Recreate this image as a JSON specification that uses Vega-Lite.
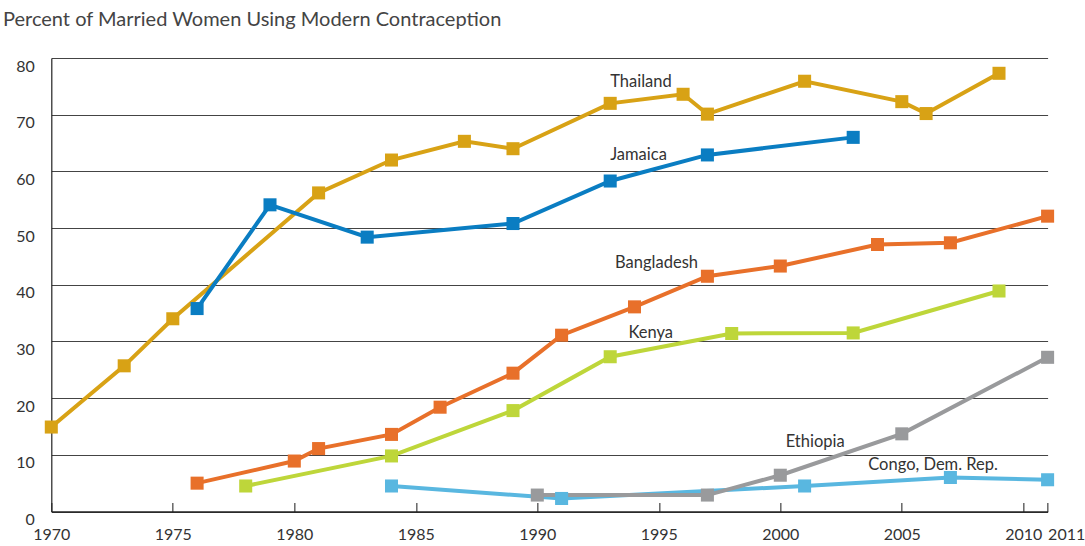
{
  "$schema": "https://vega.github.io/schema/vega-lite/v6.json",
  "width": 996.3,
  "height": 453.5,
  "autosize": {"type": "none"},
  "padding": {"left": 51.3, "top": 58, "right": 37.4, "bottom": 34.5},
  "background": "white",
  "title": {
    "text": "Percent of Married Women Using Modern Contraception",
    "anchor": "start",
    "frame": "group",
    "font": "Lato",
    "fontSize": 20,
    "fontWeight": "normal",
    "color": "#444444",
    "baseline": "alphabetic",
    "offset": 12,
    "dx": -48.3
  },
  "config": {"view": {"stroke": null}},
  "datasets": {
    "series": [
      {"country": "Thailand", "year": 1970, "value": 14.9},
      {"country": "Thailand", "year": 1973, "value": 25.7},
      {"country": "Thailand", "year": 1975, "value": 34.0},
      {"country": "Thailand", "year": 1981, "value": 56.2},
      {"country": "Thailand", "year": 1984, "value": 62.0},
      {"country": "Thailand", "year": 1987, "value": 65.3},
      {"country": "Thailand", "year": 1989, "value": 64.0},
      {"country": "Thailand", "year": 1993, "value": 72.0},
      {"country": "Thailand", "year": 1996, "value": 73.6},
      {"country": "Thailand", "year": 1997, "value": 70.1},
      {"country": "Thailand", "year": 2001, "value": 75.9},
      {"country": "Thailand", "year": 2005, "value": 72.3},
      {"country": "Thailand", "year": 2006, "value": 70.2},
      {"country": "Thailand", "year": 2009, "value": 77.3},
      {"country": "Jamaica", "year": 1976, "value": 35.8},
      {"country": "Jamaica", "year": 1979, "value": 54.1},
      {"country": "Jamaica", "year": 1983, "value": 48.4},
      {"country": "Jamaica", "year": 1989, "value": 50.8},
      {"country": "Jamaica", "year": 1993, "value": 58.3},
      {"country": "Jamaica", "year": 1997, "value": 62.9},
      {"country": "Jamaica", "year": 2003, "value": 66.0},
      {"country": "Bangladesh", "year": 1976, "value": 5.0},
      {"country": "Bangladesh", "year": 1980, "value": 8.9},
      {"country": "Bangladesh", "year": 1981, "value": 11.1},
      {"country": "Bangladesh", "year": 1984, "value": 13.6},
      {"country": "Bangladesh", "year": 1986, "value": 18.4},
      {"country": "Bangladesh", "year": 1989, "value": 24.4},
      {"country": "Bangladesh", "year": 1991, "value": 31.1},
      {"country": "Bangladesh", "year": 1994, "value": 36.1},
      {"country": "Bangladesh", "year": 1997, "value": 41.5},
      {"country": "Bangladesh", "year": 2000, "value": 43.3},
      {"country": "Bangladesh", "year": 2004, "value": 47.1},
      {"country": "Bangladesh", "year": 2007, "value": 47.4},
      {"country": "Bangladesh", "year": 2011, "value": 52.1},
      {"country": "Kenya", "year": 1978, "value": 4.5},
      {"country": "Kenya", "year": 1984, "value": 9.8},
      {"country": "Kenya", "year": 1989, "value": 17.8},
      {"country": "Kenya", "year": 1993, "value": 27.3},
      {"country": "Kenya", "year": 1998, "value": 31.4},
      {"country": "Kenya", "year": 2003, "value": 31.5},
      {"country": "Kenya", "year": 2009, "value": 38.9},
      {"country": "Congo, Dem. Rep.", "year": 1984, "value": 4.5},
      {"country": "Congo, Dem. Rep.", "year": 1991, "value": 2.3},
      {"country": "Congo, Dem. Rep.", "year": 2001, "value": 4.5},
      {"country": "Congo, Dem. Rep.", "year": 2007, "value": 6.0},
      {"country": "Congo, Dem. Rep.", "year": 2011, "value": 5.6},
      {"country": "Ethiopia", "year": 1990, "value": 2.9},
      {"country": "Ethiopia", "year": 1997, "value": 2.9},
      {"country": "Ethiopia", "year": 2000, "value": 6.4},
      {"country": "Ethiopia", "year": 2005, "value": 13.7},
      {"country": "Ethiopia", "year": 2011, "value": 27.2}
    ],
    "labels": [
      {"label": "Thailand", "year": 1993.0, "value": 75.7},
      {"label": "Jamaica", "year": 1993.0, "value": 62.9},
      {"label": "Bangladesh", "year": 1993.2, "value": 43.8},
      {"label": "Kenya", "year": 1993.75, "value": 31.5},
      {"label": "Ethiopia", "year": 2000.22, "value": 12.3},
      {"label": "Congo, Dem. Rep.", "year": 2003.62, "value": 8.2}
    ]
  },
  "layer": [
    {
      "data": {"name": "series"},
      "mark": {
        "type": "line",
        "strokeWidth": 4,
        "point": {"shape": "square", "size": 170, "filled": true, "opacity": 1}
      },
      "encoding": {
        "x": {
          "field": "year",
          "type": "quantitative",
          "scale": {"domain": [1970, 2011], "nice": false, "zero": false},
          "axis": {
            "title": null,
            "values": [1970, 1975, 1980, 1985, 1990, 1995, 2000, 2005, 2010, 2011],
            "format": "d",
            "grid": false,
            "ticks": true,
            "tickSize": -9,
            "tickColor": "#666666",
            "tickWidth": 1.5,
            "domainColor": "#222222",
            "domainWidth": 1.5,
            "labelFont": "Lato",
            "labelFontSize": 16,
            "labelColor": "#333333",
            "labelPadding": 24,
            "labelOverlap": false,
            "labelFlush": false,
            "labelBound": false,
            "labelAlign": {"condition": {"test": "datum.value === 2011", "value": "left"}, "value": "center"}
          }
        },
        "y": {
          "field": "value",
          "type": "quantitative",
          "scale": {"domain": [0, 80], "nice": false},
          "axis": {
            "title": null,
            "values": [0, 10, 20, 30, 40, 50, 60, 70, 80],
            "grid": true,
            "gridColor": "#444444",
            "gridWidth": 1,
            "ticks": false,
            "domainColor": "#222222",
            "domainWidth": 1.2,
            "labelFont": "Lato",
            "labelFontSize": 16,
            "labelColor": "#333333",
            "labelPadding": 17,
            "labelOffset": 8
          }
        },
        "color": {
          "field": "country",
          "type": "nominal",
          "legend": null,
          "scale": {
            "domain": ["Thailand", "Jamaica", "Bangladesh", "Kenya", "Congo, Dem. Rep.", "Ethiopia"],
            "range": ["#D8A215", "#0A7DC2", "#E8702A", "#BED63A", "#59B7E0", "#999A9C"]
          }
        }
      }
    },
    {
      "data": {"name": "labels"},
      "mark": {"type": "text", "align": "left", "baseline": "middle", "font": "Lato", "fontSize": 16.5, "color": "#333333"},
      "encoding": {
        "x": {"field": "year", "type": "quantitative"},
        "y": {"field": "value", "type": "quantitative"},
        "text": {"field": "label"}
      }
    }
  ]
}
